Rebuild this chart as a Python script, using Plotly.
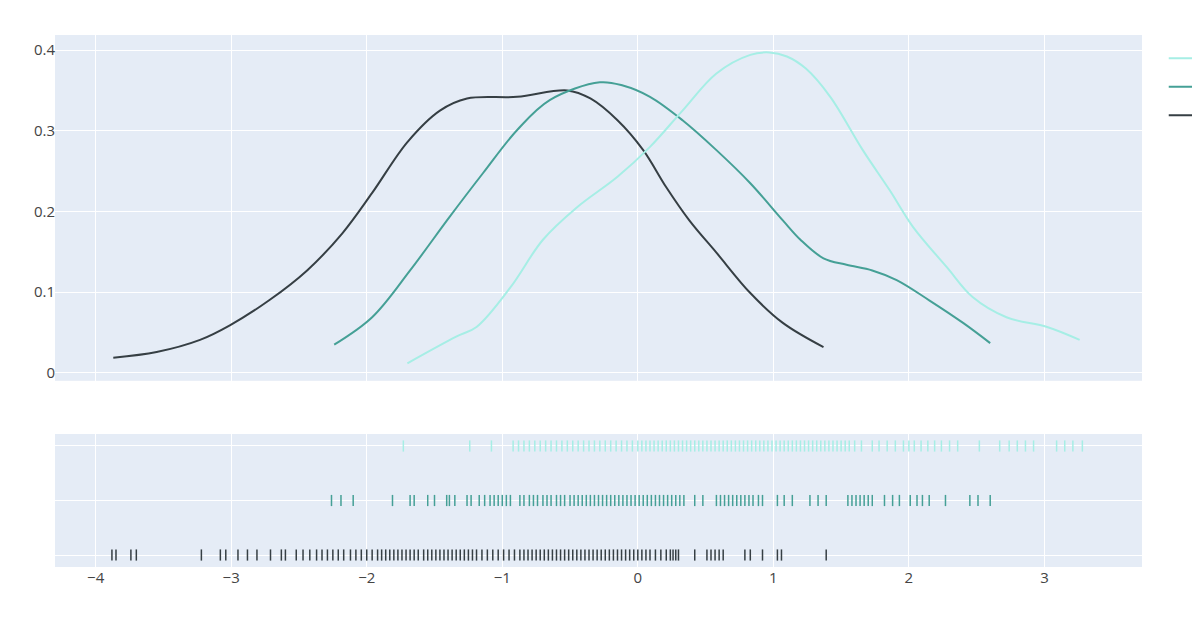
import plotly.graph_objects as go

# === DATA ===
group_labels = ['Group 1', 'Group 2', 'Group 3']
colors = ['#363F44', '#45A096', '#A6EEE5']
legend_ranks = [3, 2, 1]   # legend lists Group 3 first

# KDE curves, sampled along each line
curve1_x = [-3.87, -3.55, -3.23, -3.01, -2.72, -2.44, -2.18, -1.96, -1.70, -1.46,
            -1.26, -0.89, -0.52, -0.35, -0.15, 0.04, 0.21, 0.38, 0.58, 0.83, 1.07, 1.37]
curve1_y = [0.019, 0.026, 0.041, 0.059, 0.090, 0.127, 0.173, 0.223, 0.286, 0.325,
            0.340, 0.342, 0.350, 0.340, 0.313, 0.276, 0.230, 0.189, 0.149, 0.099, 0.062, 0.032]

curve2_x = [-2.24, -1.96, -1.68, -1.39, -1.14, -0.89, -0.65, -0.28, -0.11, 0.09, 0.33,
            0.58, 0.83, 1.07, 1.20, 1.37, 1.54, 1.73, 1.91, 2.15, 2.40, 2.60]
curve2_y = [0.035, 0.069, 0.127, 0.193, 0.248, 0.301, 0.338, 0.360, 0.356, 0.342, 0.313,
            0.276, 0.235, 0.189, 0.165, 0.142, 0.134, 0.127, 0.115, 0.090, 0.062, 0.037]

curve3_x = [-1.70, -1.34, -1.19, -0.94, -0.70, -0.45, -0.15, 0.09, 0.33, 0.58, 0.83,
            0.97, 1.10, 1.24, 1.42, 1.66, 1.86, 2.03, 2.28, 2.47, 2.72, 3.02, 3.26]
curve3_y = [0.012, 0.045, 0.057, 0.106, 0.165, 0.205, 0.243, 0.280, 0.325, 0.371, 0.394,
            0.397, 0.392, 0.377, 0.342, 0.276, 0.226, 0.181, 0.131, 0.094, 0.069, 0.057, 0.041]

# rug values
rug1 = [-3.88, -3.85, -3.74, -3.70, -3.22, -3.08, -3.04, -2.95, -2.88, -2.81, -2.71, -2.63,
        -2.60, -2.52, -2.47, -2.42, -2.37, -2.33, -2.29, -2.25, -2.21, -2.17, -2.12, -2.08,
        -2.04, -2.00, -1.96, -1.92, -1.89, -1.86, -1.83, -1.80, -1.77, -1.74, -1.71, -1.68,
        -1.65, -1.62, -1.58, -1.55, -1.52, -1.49, -1.46, -1.43, -1.40, -1.37, -1.34, -1.31,
        -1.28, -1.25, -1.22, -1.19, -1.15, -1.11, -1.07, -1.03, -0.99, -0.95, -0.91, -0.87,
        -0.84, -0.81, -0.78, -0.75, -0.72, -0.69, -0.66, -0.63, -0.60, -0.57, -0.54, -0.51,
        -0.48, -0.45, -0.42, -0.39, -0.36, -0.33, -0.30, -0.27, -0.24, -0.21, -0.18, -0.15,
        -0.12, -0.09, -0.06, -0.03, 0.00, 0.03, 0.06, 0.09, 0.13, 0.17, 0.21, 0.24, 0.26,
        0.28, 0.30, 0.42, 0.51, 0.54, 0.57, 0.60, 0.63, 0.79, 0.83, 0.92, 1.03, 1.06, 1.39]
rug2 = [-2.26, -2.19, -2.10, -1.81, -1.68, -1.65, -1.55, -1.50, -1.41, -1.39, -1.35, -1.26,
        -1.23, -1.17, -1.13, -1.09, -1.06, -1.03, -1.00, -0.97, -0.94, -0.87, -0.84, -0.80,
        -0.77, -0.74, -0.70, -0.67, -0.64, -0.60, -0.57, -0.54, -0.50, -0.47, -0.44, -0.41,
        -0.38, -0.35, -0.32, -0.29, -0.26, -0.23, -0.20, -0.17, -0.14, -0.11, -0.08, -0.05,
        -0.02, 0.01, 0.04, 0.07, 0.10, 0.13, 0.16, 0.19, 0.22, 0.25, 0.28, 0.31, 0.34, 0.42,
        0.48, 0.58, 0.61, 0.64, 0.67, 0.70, 0.73, 0.76, 0.79, 0.82, 0.85, 0.89, 0.92, 1.03,
        1.08, 1.14, 1.27, 1.33, 1.39, 1.55, 1.58, 1.61, 1.64, 1.67, 1.70, 1.73, 1.82, 1.88,
        1.93, 2.01, 2.06, 2.10, 2.15, 2.27, 2.45, 2.51, 2.60]
rug3 = [-1.73, -1.24, -1.08, -0.92, -0.88, -0.84, -0.80, -0.76, -0.72, -0.68, -0.64, -0.60,
        -0.56, -0.52, -0.48, -0.44, -0.40, -0.36, -0.32, -0.28, -0.24, -0.20, -0.16, -0.12,
        -0.08, -0.04, 0.00, 0.03, 0.06, 0.09, 0.12, 0.15, 0.18, 0.21, 0.24, 0.27, 0.30, 0.33,
        0.36, 0.39, 0.42, 0.45, 0.48, 0.51, 0.54, 0.57, 0.60, 0.63, 0.66, 0.69, 0.72, 0.75,
        0.78, 0.81, 0.84, 0.87, 0.90, 0.93, 0.96, 0.99, 1.02, 1.05, 1.08, 1.11, 1.14, 1.17,
        1.20, 1.23, 1.26, 1.29, 1.32, 1.35, 1.38, 1.41, 1.44, 1.47, 1.50, 1.53, 1.56, 1.60,
        1.65, 1.73, 1.78, 1.84, 1.90, 1.96, 2.00, 2.04, 2.09, 2.14, 2.19, 2.24, 2.30, 2.36,
        2.52, 2.67, 2.74, 2.80, 2.86, 2.92, 3.09, 3.15, 3.21, 3.28]

curves = [(curve1_x, curve1_y), (curve2_x, curve2_y), (curve3_x, curve3_y)]
rugs = [rug1, rug2, rug3]

# ------------------------------------------------------------------ #
# Build figure: curves on top, rug strip underneath
# ------------------------------------------------------------------ #
fig = go.Figure()

for (cx, cy), label, color, rank in zip(curves, group_labels, colors, legend_ranks):
    fig.add_trace(go.Scatter(
        x=cx, y=cy, mode='lines', name=label, legendgroup=label, legendrank=rank,
        line=dict(color=color, width=2, shape='spline'),
        xaxis='x', yaxis='y',
    ))

for rug, label, color, rank in zip(rugs, group_labels, colors, legend_ranks):
    fig.add_trace(go.Scatter(
        x=rug, y=[label] * len(rug), mode='markers', name=label,
        legendgroup=label, legendrank=rank, showlegend=False,
        marker=dict(color=color, symbol='line-ns-open', size=8,
                    line=dict(color=color, width=1.5)),
        xaxis='x', yaxis='y2',
    ))

# page body has an 8px margin, so the figure is a bit smaller than the window
fig.update_layout(
    width=1192,
    height=619,
    margin=dict(l=47, r=58, t=27, b=60, autoexpand=False),
    font=dict(size=15, color='#444'),
    legend=dict(traceorder='grouped', tracegroupgap=6, y=0.987),
    hovermode='closest',
    xaxis=dict(domain=[0, 1], anchor='y2', zeroline=False, range=[-4.30, 3.72]),
    yaxis=dict(domain=[0.35, 1], anchor='free', position=0,
               range=[-0.0097, 0.4186], dtick=0.1, zeroline=False),
    yaxis2=dict(domain=[0, 0.25], anchor='x', showticklabels=False,
                type='category', range=[-0.22, 2.22]),
)

fig.write_html("out.html")
